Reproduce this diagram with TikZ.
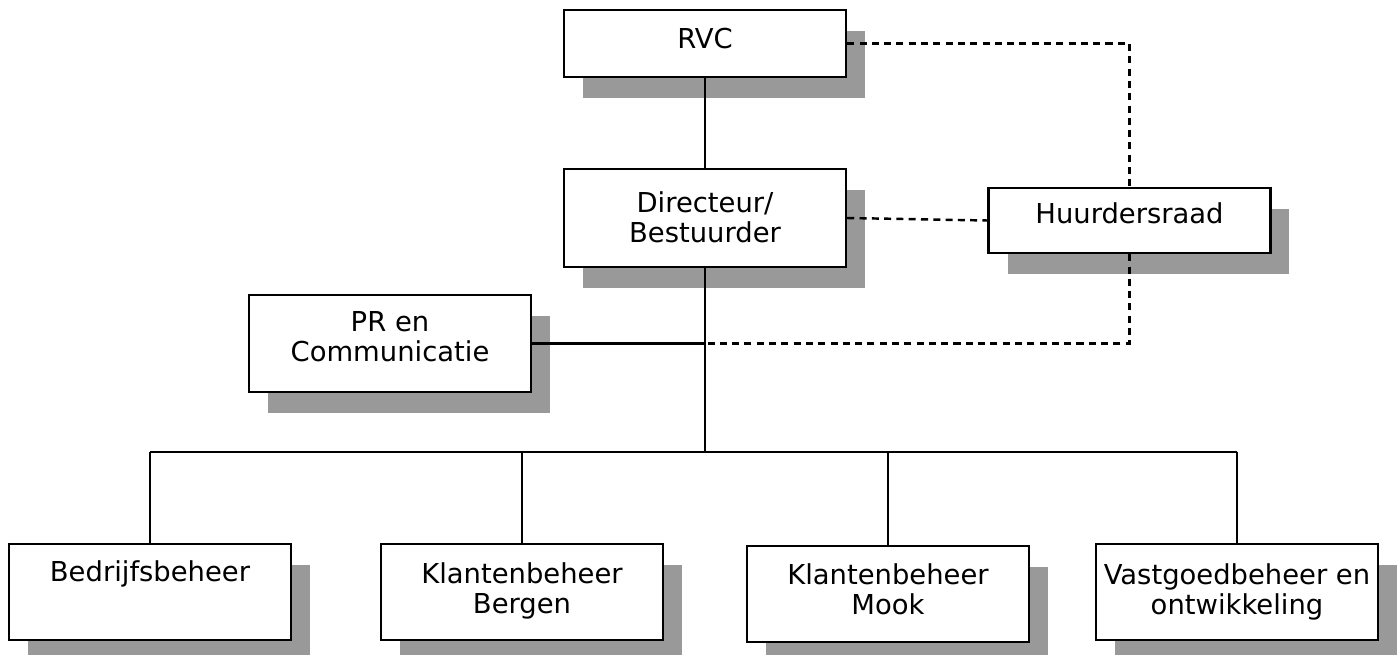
\documentclass[tikz,border=0pt]{standalone}
\usepackage{fontspec}
\setmainfont{DejaVu Sans}
\usetikzlibrary{calc}
\usetikzlibrary{shadows}

\begin{document}
\begin{tikzpicture}[x=0.02cm, y=-0.02cm,
    box/.style={draw, line width=1.4pt, fill=white, minimum width=5.64cm,
        drop shadow={shadow xshift=0.38cm, shadow yshift=-0.42cm, fill=black!40, opacity=1}},
    txt/.style={anchor=base, align=center, inner sep=0pt,
        font=\fontsize{15.6}{17}\selectfont},
    link/.style={line width=1.4pt},
    dashlink/.style={line width=1.4pt, dash pattern=on 4pt off 3pt}]

    \useasboundingbox (0,0) rectangle (1399,655);

    % boxes
    \node[box, minimum height=1.34cm] (rvc) at (705, 43.5) {};
    \node[box, minimum height=1.96cm] (dir) at (705, 218) {};
    \node[box, minimum height=1.30cm] (huur) at (1129.5, 220.5) {};
    \node[box, minimum height=1.94cm] (pr) at (390, 343.5) {};
    \node[box, minimum height=1.92cm] (bedr) at (150, 592) {};
    \node[box, minimum height=1.92cm] (bergen) at (522, 592) {};
    \node[box, minimum height=1.92cm] (mook) at (888, 594) {};
    \node[box, minimum height=1.92cm] (vast) at (1237, 592) {};

    % texts (base = last line)
    \node[txt] (trvc) at ([yshift=-0.8cm]rvc.north) {RVC};
    \node[txt] (tdir) at ([yshift=-1.5cm]dir.north) {Directeur/\\Bestuurder};
    \node[txt] (thuur) at ([yshift=-0.74cm]huur.north) {Huurdersraad};
    \node[txt] (tpr) at ([yshift=-1.36cm]pr.north) {PR en\\Communicatie};
    \node[txt] (tbedr) at ([yshift=-0.78cm]bedr.north) {Bedrijfsbeheer};
    \node[txt] (tbergen) at ([yshift=-1.42cm]bergen.north) {Klantenbeheer\\Bergen};
    \node[txt] (tmook) at ([yshift=-1.4cm]mook.north) {Klantenbeheer\\Mook};
    \node[txt] (tvast) at ([yshift=-1.44cm]vast.north) {Vastgoedbeheer en\\ontwikkeling};

    % lines
    \coordinate (bus) at (dir.south |- 0,452);
    \coordinate (prjoin) at (dir.south |- pr.east);

    \draw[link] (rvc.south) -- (dir.north);
    \draw[link] (dir.south) -- (bus);
    \draw[link] (pr.east) -- (prjoin);
    \draw[link] (bedr.north |- bus) -- (vast.north |- bus);
    \draw[link] (bedr.north |- bus) -- (bedr.north);
    \draw[link] (bergen.north |- bus) -- (bergen.north);
    \draw[link] (mook.north |- bus) -- (mook.north);
    \draw[link] (vast.north |- bus) -- (vast.north);

    \draw[dashlink] (rvc.east) -| (huur.north);
    \draw[dashlink] (dir.east) -- (huur.west);
    \draw[dashlink] (huur.south) |- (prjoin);
\end{tikzpicture}
\end{document}
